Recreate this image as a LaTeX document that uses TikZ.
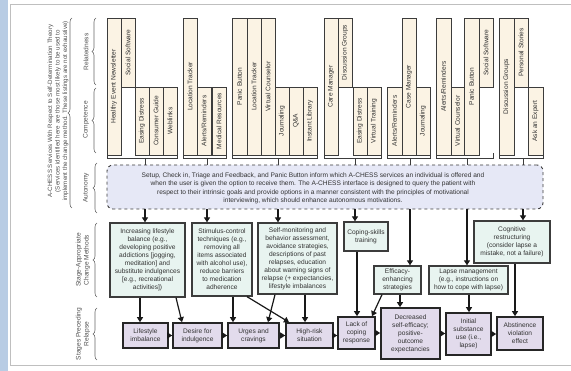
\documentclass[tikz,border=0pt]{standalone}
\usepackage{fontspec}
\setmainfont{Liberation Sans}
\usetikzlibrary{arrows.meta,decorations.pathreplacing,calc}
\definecolor{svcfill}{RGB}{251,243,228}
\definecolor{autofill}{RGB}{230,232,246}
\definecolor{chgfill}{RGB}{232,244,240}
\definecolor{stgfill}{RGB}{226,219,236}
\definecolor{edge}{RGB}{60,60,60}
\definecolor{txt}{RGB}{50,50,50}
\definecolor{stripblue}{RGB}{184,204,228}
\newcommand{\mysvc}[6]{%
  \pgfmathsetmacro{\myCx}{(#2+#3)/2}%
  \pgfmathsetmacro{\myCy}{(#4+#5)/2}%
  \pgfmathsetmacro{\myW}{#5-#4}%
  \pgfmathsetmacro{\myH}{#3-#2}%
  \node[svc, rotate=90, minimum width=\myW pt, minimum height=\myH pt] (#1) at (\myCx,\myCy) {#6};}
\newcommand{\mybox}[7]{%
  \pgfmathsetmacro{\myCx}{(#3+#4)/2}%
  \pgfmathsetmacro{\myCy}{(#5+#6)/2}%
  \pgfmathsetmacro{\myW}{#4-#3}%
  \pgfmathsetmacro{\myH}{#6-#5}%
  \node[#1, minimum width=\myW pt, minimum height=\myH pt] (#2) at (\myCx,\myCy) {#7};}
\tikzset{
  svc/.style={draw=edge, fill=svcfill, line width=0.8pt, inner sep=0pt, font=\fontsize{6.6}{7.5}\selectfont, text=txt},
  chg/.style={draw=edge, fill=chgfill, line width=1.3pt, inner sep=0pt, align=center, font=\fontsize{6.6}{8}\selectfont, text=txt},
  stg/.style={draw=black!85, fill=stgfill, line width=1.6pt, inner sep=0pt, align=center, font=\fontsize{6.6}{8}\selectfont, text=txt},
  autob/.style={draw=edge, dashed, line width=0.9pt, fill=autofill, rounded corners=6pt, inner sep=0pt},
  autotxt/.style={align=center, inner sep=0pt, font=\fontsize{6.6}{8.5}\selectfont, text=txt},
  arr/.style={-{Triangle[length=5pt,width=6pt]}, line width=1.2pt, black!90},
  conn/.style={line width=0.9pt, draw=edge},
  lbl/.style={rotate=90, align=center, inner sep=0pt, font=\fontsize{6.6}{8}\selectfont, text=txt!85},
  brc/.style={decorate, decoration={brace, amplitude=4pt}, draw=black!60, line width=0.6pt}
}
\begin{document}
\begin{tikzpicture}[x=1pt, y=-1pt]
\useasboundingbox (0,0) rectangle (571,371);
\fill[stripblue] (0,0) rectangle (8,371);
\draw[black!25, line width=1pt] (10,5) -- (580,5) (10,5) -- (10,366) -- (580,366);

% left labels
\node[lbl, font=\fontsize{6.2}{7.5}\selectfont] (title) at (58,111) {A-CHESS Services With Respect to Self-Determination Theory\\(Services identified here are those most likely to be used to\\implement the change method. These listings are not exhaustive)};
\node[lbl] (lrel) at (86,52) {Relatedness};
\node[lbl] (lcomp) at (86,120) {Competence};
\node[lbl] (laut) at (86,188) {Autonomy};
\node[lbl] (lchg) at (83,260) {Stage-Appropriate\\Change Methods};
\node[lbl] (lstg) at (83,334) {Stages Preceding\\Relapse};
\coordinate (bA1) at (72,208); \coordinate (bA2) at (72,18);
\coordinate (bR1) at (96,85); \coordinate (bR2) at (96,18);
\coordinate (bC1) at (96,153); \coordinate (bC2) at (96,88);
\coordinate (bU1) at (97,213); \coordinate (bU2) at (97,163);
\coordinate (bS1) at (97,297); \coordinate (bS2) at (97,223);
\coordinate (bP1) at (97,360); \coordinate (bP2) at (97,308);
\draw[brc] (bA1) -- (bA2);
\draw[brc] (bR1) -- (bR2);
\draw[brc] (bC1) -- (bC2);
\draw[brc] (bU1) -- (bU2);
\draw[brc] (bS1) -- (bS2);
\draw[brc] (bP1) -- (bP2);

% service boxes
\mysvc{s11}{107}{121}{18}{155}{Healthy Event Newsletter}
\mysvc{s12}{121}{135}{18}{87}{Social Software}
\mysvc{s13}{135}{149}{87}{155}{Easing Distress}
\mysvc{s14}{149}{163}{87}{155}{Consumer Guide}
\mysvc{s15}{163}{177}{87}{155}{Weblinks}
\mysvc{s21}{183}{197}{18}{155}{Location Tracker}
\mysvc{s22}{197}{211}{87}{155}{Alerts/Reminders}
\mysvc{s23}{212}{226}{87}{155}{Medical Resources}
\mysvc{s31}{232}{247}{18}{155}{Panic Button}
\mysvc{s32}{247}{261}{18}{155}{Location Tracker}
\mysvc{s33}{261}{275}{18}{155}{Virtual Counselor}
\mysvc{s34}{275}{289}{87}{155}{Journaling}
\mysvc{s35}{289}{303}{87}{155}{Q\&A}
\mysvc{s36}{303}{317}{87}{155}{Instant Library}
\mysvc{s41}{324}{338}{18}{155}{Care Manager}
\mysvc{s42}{338}{352}{18}{87}{Discussion Groups}
\mysvc{s43}{353}{367}{87}{155}{Easing Distress}
\mysvc{s44}{367}{381}{87}{155}{Virtual Training}
\mysvc{s51}{387}{402}{87}{155}{Alerts/Reminders}
\mysvc{s52}{402}{416}{18}{155}{Case Manager}
\mysvc{s53}{416}{430}{87}{155}{Journaling}
\mysvc{s61}{436}{451}{18}{155}{Alerts/Reminders}
\mysvc{s62}{451}{464}{87}{155}{Virtual Counselor}
\mysvc{s63}{464}{479}{18}{155}{Panic Button}
\mysvc{s64}{479}{493}{18}{87}{Social Software}
\mysvc{s71}{499}{514}{18}{155}{Discussion Groups}
\mysvc{s72}{514}{528}{18}{87}{Personal Stories}
\mysvc{s73}{528}{543}{87}{155}{Ask an Expert}

% autonomy box
\node[autob, minimum width=436pt, minimum height=44pt] (auto) at (325,187) {};
\node[autotxt] (autot) at (313,188.5) {Setup, Check in, Triage and Feedback, and Panic Button inform which A-CHESS services an individual is offered and\\when the user is given the option to receive them. The A-CHESS interface is designed to query the patient with\\respect to their intrinsic goals and provide options in a manner consistent with the principles of motivational\\interviewing, which should enhance autonomous motivations.};

% group brackets
\coordinate (d1) at (145,0); \coordinate (d2) at (207,0); \coordinate (d3) at (278,0);
\coordinate (d4) at (355,0); \coordinate (d5) at (410,0); \coordinate (d6) at (467,0);
\coordinate (d7) at (523,0);
\foreach \gl/\gr/\gd in {107/177/d1, 183/226/d2, 232/317/d3, 324/381/d4, 387/430/d5, 436/493/d6, 499/543/d7}{
  \coordinate (gL) at (\gl,153); \coordinate (gR) at (\gr,153);
  \draw[conn] (gL) -- ++(0,5) -| (gR);
  \draw[conn] ([yshift=-5pt]gL -| \gd) -- (auto.north -| \gd);
}

% change method boxes
\mybox{chg}{b1}{110}{185}{223}{297}{Increasing lifestyle\\balance (e.g.,\\developing positive\\addictions {[}jogging,\\meditation{]} and\\substitute indulgences\\{[}e.g., recreational\\activities{]})}
\mybox{chg}{b2}{192}{252}{223}{296}{Stimulus-control\\techniques (e.g.,\\removing all\\items associated\\with alcohol use),\\reduce barriers\\to medication\\adherence}
\mybox{chg}{b3}{258}{337}{223}{294}{Self-monitoring and\\behavior assessment,\\avoidance strategies,\\descriptions of past\\relapses, education\\about warning signs of\\relapse (+ expectancies,\\lifestyle imbalances}
\mybox{chg}{b4}{344}{388}{222}{251}{Coping-skills\\training}
\mybox{chg}{b5}{374}{421}{266}{294}{Efficacy-\\enhancing\\strategies}
\mybox{chg}{b6}{429}{508}{266}{294}{Lapse management\\(e.g., instructions on\\how to cope with lapse)}
\mybox{chg}{b7}{474}{550}{221}{263}{Cognitive\\restructuring\\(consider lapse a\\mistake, not a failure)}

% stage boxes
\mybox{stg}{sa}{123}{168}{323}{348}{Lifestyle\\imbalance}
\mybox{stg}{sb}{173}{222}{323}{348}{Desire for\\indulgence}
\mybox{stg}{sc}{228}{279}{323}{348}{Urges and\\cravings}
\mybox{stg}{sd}{286}{333}{323}{348}{High-risk\\situation}
\mybox{stg}{se}{338}{375}{317}{349}{Lack of\\coping\\response}
\mybox{stg}{sf}{381}{440}{308}{359}{Decreased\\self-efficacy;\\positive-\\outcome\\expectancies}
\mybox{stg}{sg}{446}{491}{313}{355}{Initial\\substance\\use (i.e.,\\lapse)}
\mybox{stg}{sh}{497}{543}{317}{350}{Abstinence\\violation\\effect}

% autonomy -> change methods
\draw[arr] (auto.south -| d1) -- (b1.north -| d1);
\draw[arr] (auto.south -| d2) -- (b2.north -| d2);
\draw[arr] (auto.south -| d3) -- (b3.north -| d3);
\draw[arr] (auto.south -| d4) -- (b4.north -| d4);
\draw[arr] (auto.south -| d5) -- (b5.north -| d5);
\draw[arr] (auto.south -| d6) -- (b6.north -| d6);
\draw[arr] (auto.south -| d7) -- (b7.north -| d7);

% change methods -> stages
\coordinate (e1) at (140,0);
\coordinate (e2s) at (176,0); \coordinate (e2e) at (182,0);
\coordinate (e3) at (233,0);
\coordinate (e4s) at (247,0); \coordinate (e4e) at (289,0);
\coordinate (e5s) at (275,0); \coordinate (e5e) at (268,0);
\coordinate (e6) at (305,0);
\coordinate (e7) at (357,0);
\coordinate (e8s) at (382,0); \coordinate (e8e) at (372,0);
\coordinate (e9) at (400,0);
\coordinate (e10) at (469,0);
\coordinate (e11) at (515,0);
\draw[arr] (b1.south -| e1) -- (sa.north -| e1);
\draw[arr] (b1.south -| e2s) -- (sb.north -| e2e);
\draw[arr] (b2.south -| e3) -- (sc.north -| e3);
\draw[arr] (b2.south -| e4s) -- (sd.north -| e4e);
\draw[arr] (b3.south -| e5s) -- (sc.north -| e5e);
\draw[arr] (b3.south -| e6) -- (sd.north -| e6);
\draw[arr] (b4.south -| e7) -- (se.north -| e7);
\draw[arr] (b5.south -| e8s) -- (se.north -| e8e);
\draw[arr] (b5.south -| e9) -- (sf.north -| e9);
\draw[arr] (b6.south -| e10) -- (sg.north -| e10);
\draw[arr] (b7.south -| e11) -- (sh.north -| e11);

% stage sequence
\draw[arr] (sa.east) -- (sa.east -| sb.west);
\draw[arr] (sb.east) -- (sb.east -| sc.west);
\draw[arr] (sc.east) -- (sc.east -| sd.west);
\draw[arr] (sd.east) -- (sd.east -| se.west);
\draw[arr] (se.east) -- (se.east -| sf.west);
\draw[arr] (sf.east) -- (sf.east -| sg.west);
\draw[arr] (sg.east) -- (sg.east -| sh.west);
\end{tikzpicture}
\end{document}
